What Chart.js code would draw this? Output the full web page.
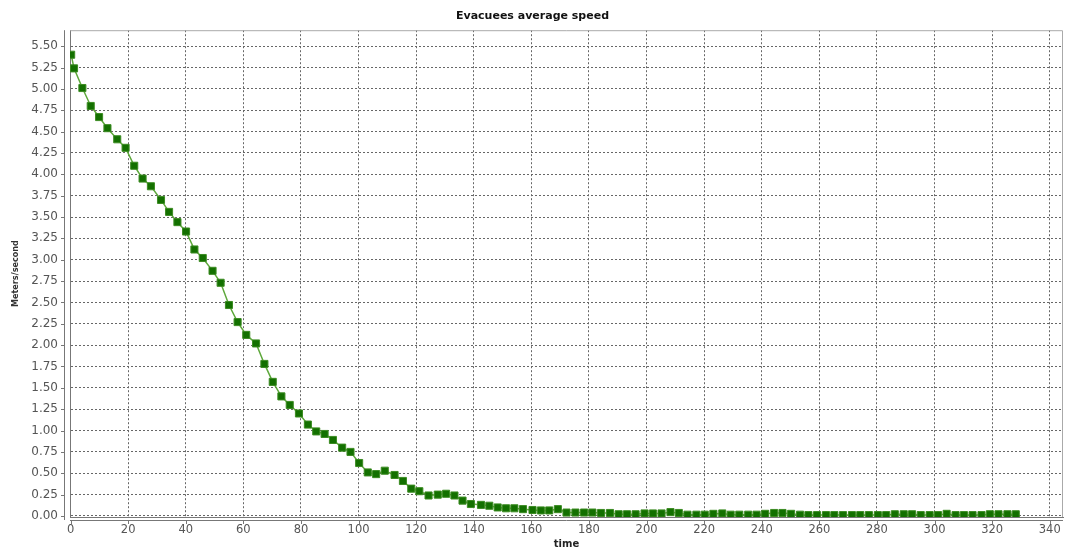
<!DOCTYPE html>
<html>
<head>
<meta charset="utf-8">
<script src="https://cdn.jsdelivr.net/npm/chart.js@4"></script>
<style>
html, body { margin: 0; padding: 0; background: #ffffff; }
#wrap { width: 1069px; height: 550px; }
</style>
</head>
<body>
<div id="wrap"><canvas id="speedChart" width="1069" height="550"></canvas></div>
<script>
// time (x) and average speed (y)
const times = [0.2, 1.2, 4.1, 7.0, 9.9, 12.8, 16.2, 19.1, 22.1, 25.0, 27.9, 31.4, 34.2, 37.1, 40.1, 43.0, 45.9, 49.3, 52.1, 55.0,
58.0, 61.0, 64.4, 67.3, 70.2, 73.2, 76.1, 79.3, 82.4, 85.3, 88.2, 91.1, 94.3, 97.2, 100.2, 103.2, 106.1, 109.1, 112.5, 115.4,
118.3, 121.1, 124.3, 127.5, 130.4, 133.3, 136.1, 139.0, 142.5, 145.4, 148.3, 151.2, 154.1, 157.1, 160.4, 163.3, 166.2, 169.2, 172.2, 175.3,
178.3, 181.2, 184.2, 187.3, 190.3, 193.2, 196.2, 199.3, 202.2, 205.2, 208.3, 211.2, 214.2, 217.3, 220.2, 223.2, 226.3, 229.2, 232.2, 235.3,
238.2, 241.2, 244.3, 247.2, 250.2, 253.3, 256.2, 259.2, 262.3, 265.2, 268.2, 271.3, 274.2, 277.2, 280.3, 283.2, 286.2, 289.3, 292.2, 295.2,
298.3, 301.2, 304.2, 307.3, 310.2, 313.2, 316.3, 319.2, 322.2, 325.3, 328.2];

const speeds = [5.40, 5.24, 5.01, 4.80, 4.67, 4.54, 4.41, 4.31, 4.10, 3.95, 3.86, 3.70, 3.56, 3.44, 3.33, 3.12, 3.02, 2.87, 2.73, 2.47,
2.27, 2.12, 2.02, 1.78, 1.57, 1.40, 1.30, 1.20, 1.07, 0.99, 0.96, 0.89, 0.80, 0.75, 0.62, 0.51, 0.49, 0.53, 0.48, 0.41,
0.32, 0.29, 0.24, 0.25, 0.26, 0.24, 0.18, 0.14, 0.13, 0.12, 0.10, 0.09, 0.09, 0.08, 0.07, 0.065, 0.065, 0.08, 0.04, 0.04,
0.04, 0.04, 0.035, 0.035, 0.02, 0.02, 0.02, 0.03, 0.03, 0.03, 0.045, 0.035, 0.015, 0.015, 0.015, 0.025, 0.03, 0.015, 0.015, 0.015,
0.015, 0.025, 0.035, 0.035, 0.025, 0.015, 0.01, 0.01, 0.01, 0.01, 0.01, 0.01, 0.01, 0.01, 0.01, 0.01, 0.02, 0.02, 0.02, 0.01,
0.01, 0.01, 0.025, 0.01, 0.01, 0.01, 0.01, 0.02, 0.02, 0.02, 0.02];

const chartTitle = "Evacuees average speed";
const xTitle = "time";
const yTitle = "Meters/second";

var points = [];
for (var i = 0; i < times.length; i++) {
    points.push({ x: times[i], y: speeds[i] });
}

// offset axis lines + plot outline, JFreeChart look
const axisLines = {
    id: 'axisLines',
    afterDraw: function(chart) {
        var ctx = chart.ctx;
        var a = chart.chartArea;
        var xs = chart.scales.x;
        var ys = chart.scales.y;
        ctx.save();
        ctx.strokeStyle = '#aaaaaa';
        ctx.lineWidth = 1;
        ctx.beginPath();
        ctx.moveTo(a.left, a.top + 0.5);
        ctx.lineTo(a.right - 0.5, a.top + 0.5);
        ctx.lineTo(a.right - 0.5, a.bottom);
        ctx.stroke();

        ctx.strokeStyle = '#777777';
        ctx.beginPath();
        ctx.moveTo(a.left - 5.5, a.top);
        ctx.lineTo(a.left - 5.5, a.bottom + 3);
        ctx.moveTo(a.left, a.bottom + 3.5);
        ctx.lineTo(a.right, a.bottom + 3.5);
        ys.ticks.forEach(function(t) {
            var py = Math.round(ys.getPixelForValue(t.value)) + 0.5;
            ctx.moveTo(a.left - 9, py);
            ctx.lineTo(a.left - 5.5, py);
        });
        xs.ticks.forEach(function(t) {
            var px = Math.round(xs.getPixelForValue(t.value)) + 0.5;
            ctx.moveTo(px, a.bottom + 3.5);
            ctx.lineTo(px, a.bottom + 7);
        });
        ctx.stroke();
        ctx.restore();
    }
};

new Chart("speedChart", {
    type: "line",
    data: {
        datasets: [{
            label: yTitle,
            data: points,
            borderColor: "#5ea83c",
            borderWidth: 1.5,
            backgroundColor: "#137000",
            pointStyle: "rect",
            pointRadius: 5,
            pointBorderWidth: 1,
            pointBorderColor: "#3c8c22",
            pointBackgroundColor: "#137000",
            tension: 0,
            fill: false
        }]
    },
    options: {
        responsive: false,
        animation: false,
        layout: { padding: { top: 0, right: 4, bottom: 0, left: 0 } },
        plugins: {
            legend: { display: false },
            tooltip: { enabled: false },
            title: {
                display: true,
                text: chartTitle,
                color: "#111111",
                font: { family: "DejaVu Sans", size: 11, weight: "bold" },
                padding: { top: 10, bottom: 7 }
            }
        },
        scales: {
            x: {
                type: "linear",
                min: -0.2,
                max: 344.6,
                afterFit: function(s) { s.height = 33; },
                ticks: {
                    stepSize: 20,
                    includeBounds: false,
                    color: "#555555",
                    padding: 6,
                    maxRotation: 0,
                    font: { family: "DejaVu Sans", size: 11.5 }
                },
                grid: {
                    color: "#666666",
                    lineWidth: 1,
                    drawTicks: false
                },
                border: { display: true, color: "#777777", dash: [2, 2] },
                title: {
                    display: true,
                    text: xTitle,
                    color: "#222222",
                    font: { family: "DejaVu Sans", size: 10, weight: "bold" },
                    padding: { top: 0, bottom: 0 }
                }
            },
            y: {
                min: -0.012,
                max: 5.687,
                afterFit: function(s) { s.width = 70; },
                ticks: {
                    stepSize: 0.25,
                    includeBounds: false,
                    color: "#555555",
                    padding: 12,
                    font: { family: "DejaVu Sans", size: 12 },
                    callback: function(v) { return v.toFixed(2); }
                },
                grid: {
                    color: "#666666",
                    lineWidth: 1,
                    drawTicks: false
                },
                border: { display: true, color: "#777777", dash: [2, 2] },
                title: {
                    display: true,
                    text: yTitle,
                    color: "#333333",
                    font: { family: "DejaVu Sans Condensed", size: 9, weight: "bold" },
                    padding: { top: 10, bottom: 0 }
                }
            }
        }
    },
    plugins: [axisLines]
});
</script>
</body>
</html>
